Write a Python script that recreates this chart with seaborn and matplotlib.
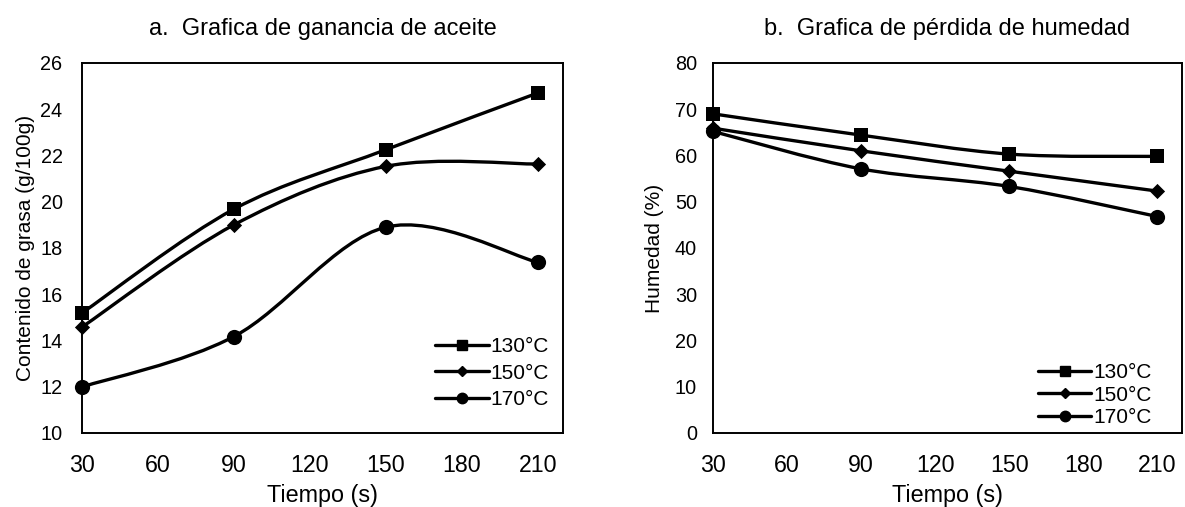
import numpy as np
import pandas as pd
import seaborn as sns
import matplotlib
matplotlib.use("Agg")
import matplotlib.pyplot as plt
from matplotlib.path import Path
from matplotlib.patches import PathPatch
from matplotlib.lines import Line2D

# datos
tiempo = [30, 90, 150, 210]
temps = ["130°C", "150°C", "170°C"]

grasa_130 = [15.19, 19.68, 22.25, 24.70]
grasa_150 = [14.58, 19.00, 21.53, 21.63]
grasa_170 = [11.99, 14.17, 18.90, 17.38]

humedad_130 = [69.0, 64.4, 60.3, 59.8]
humedad_150 = [65.9, 61.0, 56.6, 52.3]
humedad_170 = [65.2, 57.1, 53.3, 46.8]

marcadores = {"130°C": "s", "150°C": "D", "170°C": "o"}
tamanos = {"130°C": 115, "150°C": 60, "170°C": 120}
leg_ms = {"130°C": 7, "150°C": 5.5, "170°C": 7.5}


def to_long(series):
    rows = []
    for temp, vals in zip(temps, series):
        for t, v in zip(tiempo, vals):
            rows.append(dict(tiempo=t, valor=v, temp=temp))
    return pd.DataFrame(rows)


def smooth_path(x, y):
    # curva suavizada tipo Excel (Catmull-Rom -> Bezier)
    pts = np.column_stack([x, y]).astype(float)
    n = len(pts)
    verts = [pts[0]]
    codes = [Path.MOVETO]
    for i in range(n - 1):
        p0 = pts[max(i - 1, 0)]
        p1 = pts[i]
        p2 = pts[i + 1]
        p3 = pts[min(i + 2, n - 1)]
        verts += [p1 + (p2 - p0) / 6, p2 - (p3 - p1) / 6, p2]
        codes += [Path.CURVE4] * 3
    return Path(verts, codes)


def draw_panel(ax, series, title, ylabel, ylim, yticks, ytickpad, ylabelpad,
               legend_anchor, labelspacing):
    data = to_long(series)
    for temp, vals in zip(temps, series):
        ax.add_patch(PathPatch(smooth_path(tiempo, vals), fill=False, edgecolor="black",
                               lw=2.4, capstyle="round", joinstyle="round", zorder=2,
                               clip_on=False))
    for temp in temps:
        sub = data[data["temp"] == temp]
        sns.scatterplot(data=sub, x="tiempo", y="valor", marker=marcadores[temp],
                        s=tamanos[temp], color="black", edgecolor="black", linewidth=0,
                        ax=ax, zorder=3, legend=False, clip_on=False)

    ax.set_xlim(30, 220)
    ax.set_xticks([30, 60, 90, 120, 150, 180, 210])
    ax.set_ylim(*ylim)
    ax.set_yticks(yticks)
    ax.tick_params(axis="x", length=0, pad=15, labelsize=16.7, labelcolor="black")
    ax.tick_params(axis="y", length=0, pad=ytickpad, labelsize=14.3, labelcolor="black")
    ax.set_xlabel("Tiempo (s)", fontsize=16.8, labelpad=5, color="black")
    ax.set_ylabel(ylabel, fontsize=15, labelpad=ylabelpad, color="black")
    ax.set_title(title, fontsize=17, pad=20, color="black")
    for sp in ax.spines.values():
        sp.set_visible(True)
        sp.set_linewidth(1.4)
        sp.set_color("black")

    handles = [Line2D([0], [0], color="black", lw=2.4, marker=marcadores[t],
                      markersize=leg_ms[t]) for t in temps]
    ax.legend(handles, temps, loc="lower right", bbox_to_anchor=legend_anchor,
              frameon=False, fontsize=15, handlelength=2.55, handletextpad=0.1,
              labelspacing=labelspacing, borderpad=0, borderaxespad=0,
              labelcolor="black")


sns.set_style("white")
plt.rcParams["font.family"] = ["Liberation Sans", "DejaVu Sans"]
plt.rcParams["text.color"] = "black"

fig = plt.figure(figsize=(11.85, 5.07), dpi=100)
ax1 = fig.add_axes([0.0692, 0.1460, 0.4059, 0.7298])
ax2 = fig.add_axes([0.6017, 0.1460, 0.3958, 0.7298])

draw_panel(ax1, [grasa_130, grasa_150, grasa_170], "a.  Grafica de ganancia de aceite",
           "Contenido de grasa (g/100g)", (10, 26), range(10, 27, 2), 14, 4,
           (0.971, 0.065), 0.35)
draw_panel(ax2, [humedad_130, humedad_150, humedad_170], "b.  Grafica de pérdida de humedad",
           "Humedad (%)", (0, 80), range(0, 81, 10), 11.5, 8,
           (0.935, 0.015), 0.18)

fig.savefig("out.png", dpi=100)
